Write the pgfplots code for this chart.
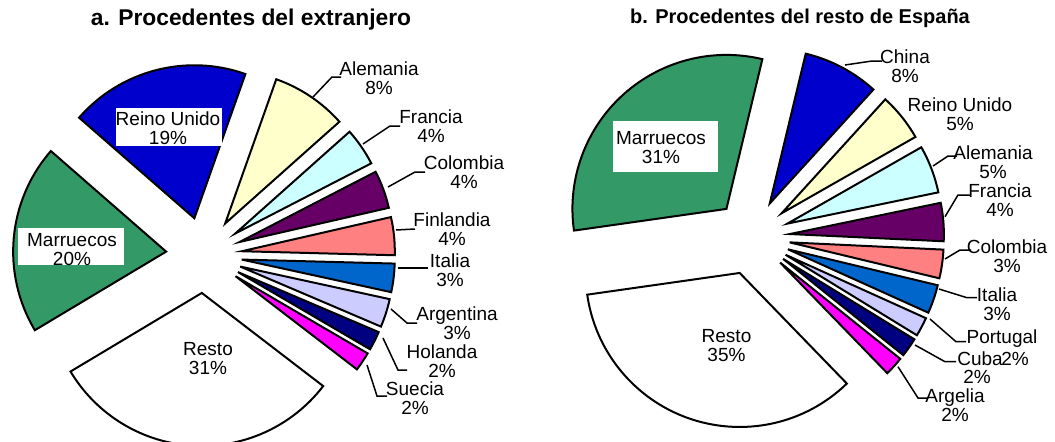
\documentclass[border=0pt]{standalone}
\usepackage{pgfplots}
\usepackage{pgfplotstable}
\usepackage{fontspec}
\setmainfont{Liberation Sans}
\pgfplotsset{compat=1.18}

\definecolor{cBlue}{HTML}{0000CC}
\definecolor{cGreen}{HTML}{339966}
\definecolor{cLYel}{HTML}{FFFFCC}
\definecolor{cLCyan}{HTML}{CCFFFF}
\definecolor{cPurp}{HTML}{660066}
\definecolor{cCoral}{HTML}{FF8080}
\definecolor{cOcean}{HTML}{0066CC}
\definecolor{cIce}{HTML}{CCCCFF}
\definecolor{cNavy}{HTML}{000080}
\definecolor{cMag}{HTML}{FF00FF}

% slices clockwise from the start angle
\pgfplotstableread{
pct col
8  cLYel
4  cLCyan
4  cPurp
4  cCoral
3  cOcean
3  cIce
2  cNavy
2  cMag
31 white
20 cGreen
19 cBlue
}\extranjero

\pgfplotstableread{
pct col
8  cBlue
5  cLYel
5  cLCyan
4  cPurp
3  cCoral
3  cOcean
2  cIce
2  cNavy
2  cMag
35 white
31 cGreen
}\espana

\def\explode{38}
% #1 table, #2 cx, #3 cy (image px), #4 radius, #5 start angle
\newcommand{\piechart}[5]{%
  \pgfplotstablegetrowsof{#1}%
  \pgfmathtruncatemacro\nrows{\pgfplotsretval-1}%
  \xdef\acur{#5}%
  \foreach \i in {0,...,\nrows}{%
    \pgfplotstablegetelem{\i}{pct}\of{#1}\let\pct\pgfplotsretval
    \pgfplotstablegetelem{\i}{col}\of{#1}\let\col\pgfplotsretval
    \pgfmathsetmacro\anext{\acur-3.6*\pct}%
    \pgfmathsetmacro\amid{(\acur+\anext)/2}%
    \pgfmathsetmacro\tx{#2+\explode*cos(\amid)}%
    \pgfmathsetmacro\ty{#3-\explode*sin(\amid)}%
    \edef\temp{\noexpand\filldraw[fill=\col, draw=black, line width=1pt]
      (axis cs:\tx,\ty) -- ++(\acur:#4) arc[start angle=\acur, end angle=\anext, radius=#4] -- cycle;}%
    \temp
    \xdef\acur{\anext}%
  }%
}

\newcommand\lbl{\fontsize{9.5}{9.5}\selectfont}

\begin{document}
\begin{tikzpicture}
\begin{axis}[
  x=0.5pt, y=0.5pt,
  xmin=0, xmax=1055, ymin=0, ymax=441,
  y dir=reverse,
  hide axis,
  clip=true,
]
\coordinate (bl) at (axis cs:0,441);
\coordinate (tr) at (axis cs:1055,0);

\piechart{\extranjero}{204}{255}{76.5pt}{70.5}
\piechart{\espana}{752}{237}{77pt}{76.5}

% titles
\node[font=\bfseries\fontsize{11.4}{13}\selectfont] at (axis cs:251,20) {a. Procedentes del extranjero};
\node[font=\bfseries\fontsize{10}{12}\selectfont] at (axis cs:800,18) {b. Procedentes del resto de España};

% inside labels
\fill[white] (axis cs:116,108) rectangle (axis cs:222,146);
\node[font=\lbl, align=center] at (axis cs:168,128) {Reino Unido\\19\%};
\fill[white] (axis cs:18,228) rectangle (axis cs:124,265);
\node[font=\lbl, align=center] at (axis cs:72,250) {Marruecos\\20\%};
\node[font=\lbl, align=center] at (axis cs:208,359) {Resto\\31\%};

\fill[white] (axis cs:613,121) rectangle (axis cs:718,172);
\node[font=\lbl, align=center] at (axis cs:661,147.5) {Marruecos\\31\%};
\node[font=\lbl, align=center] at (axis cs:726.5,346) {Resto\\35\%};

% outside labels, left
\node[font=\lbl, align=center] at (axis cs:379,78.5) {Alemania\\8\%};
\node[font=\lbl, align=center] at (axis cs:431,126.5) {Francia\\4\%};
\node[font=\lbl, align=center] at (axis cs:464,172.5) {Colombia\\4\%};
\node[font=\lbl, align=center] at (axis cs:452,229) {Finlandia\\4\%};
\node[font=\lbl, align=center] at (axis cs:450,270.5) {Italia\\3\%};
\node[font=\lbl, align=center] at (axis cs:457,323) {Argentina\\3\%};
\node[font=\lbl, align=center, inner sep=1pt] at (axis cs:442,361.5) {Holanda\\2\%};
\node[font=\lbl, align=center, inner sep=1pt] at (axis cs:415,398) {Suecia\\2\%};

\draw[line width=0.75pt] (axis cs:313,97) -- (axis cs:332,77) -- (axis cs:341,77);
\draw[line width=0.75pt] (axis cs:363,144) -- (axis cs:390,126) -- (axis cs:400,126);
\draw[line width=0.75pt] (axis cs:388,187) -- (axis cs:415,172) -- (axis cs:425,172);
\draw[line width=0.75pt] (axis cs:396,230) -- (axis cs:415,229);
\draw[line width=0.75pt] (axis cs:398,268) -- (axis cs:428,268);
\draw[line width=0.75pt] (axis cs:391,309) -- (axis cs:407,323) -- (axis cs:417,323);
\draw[line width=0.75pt] (axis cs:383,338) -- (axis cs:398,370) -- (axis cs:407,370);
\draw[line width=0.75pt] (axis cs:367,365) -- (axis cs:377,396) -- (axis cs:387,396);

% outside labels, right
\node[font=\lbl, align=center] at (axis cs:905,66) {China\\8\%};
\node[font=\lbl, align=center] at (axis cs:960,114) {Reino Unido\\5\%};
\node[font=\lbl, align=center] at (axis cs:993,162) {Alemania\\5\%};
\node[font=\lbl, align=center] at (axis cs:1000,200.5) {Francia\\4\%};
\node[font=\lbl, align=center] at (axis cs:1007,256.5) {Colombia\\3\%};
\node[font=\lbl, align=center] at (axis cs:997,304) {Italia\\3\%};
\node[font=\lbl] at (axis cs:1002,338.5) {Portugal};
\node[font=\lbl] at (axis cs:980,358.5) {Cuba};
\node[font=\lbl] at (axis cs:1015,359) {2\%};
\node[font=\lbl] at (axis cs:977,377) {2\%};
\node[font=\lbl, align=center] at (axis cs:955,405.5) {Argelia\\2\%};

\draw[line width=0.75pt] (axis cs:845,65) -- (axis cs:872,61) -- (axis cs:882,61);
\draw[line width=0.75pt] (axis cs:933,166) -- (axis cs:948,156) -- (axis cs:957,156);
\draw[line width=0.75pt] (axis cs:945,216.7) -- (axis cs:958,195) -- (axis cs:970,195);
\draw[line width=0.75pt] (axis cs:945,259) -- (axis cs:960,250) -- (axis cs:971,250);
\draw[line width=0.75pt] (axis cs:939,289) -- (axis cs:967,297.7) -- (axis cs:977,297.7);
\draw[line width=0.75pt] (axis cs:930,319) -- (axis cs:956,341.7) -- (axis cs:966,341.7);
\draw[line width=0.75pt] (axis cs:915,345) -- (axis cs:945,361.7) -- (axis cs:956,361.7);
\draw[line width=0.75pt] (axis cs:898,366.7) -- (axis cs:918,398) -- (axis cs:928,398);
\end{axis}
\pgfresetboundingbox
\useasboundingbox (bl) rectangle (tr);
\end{tikzpicture}
\end{document}
